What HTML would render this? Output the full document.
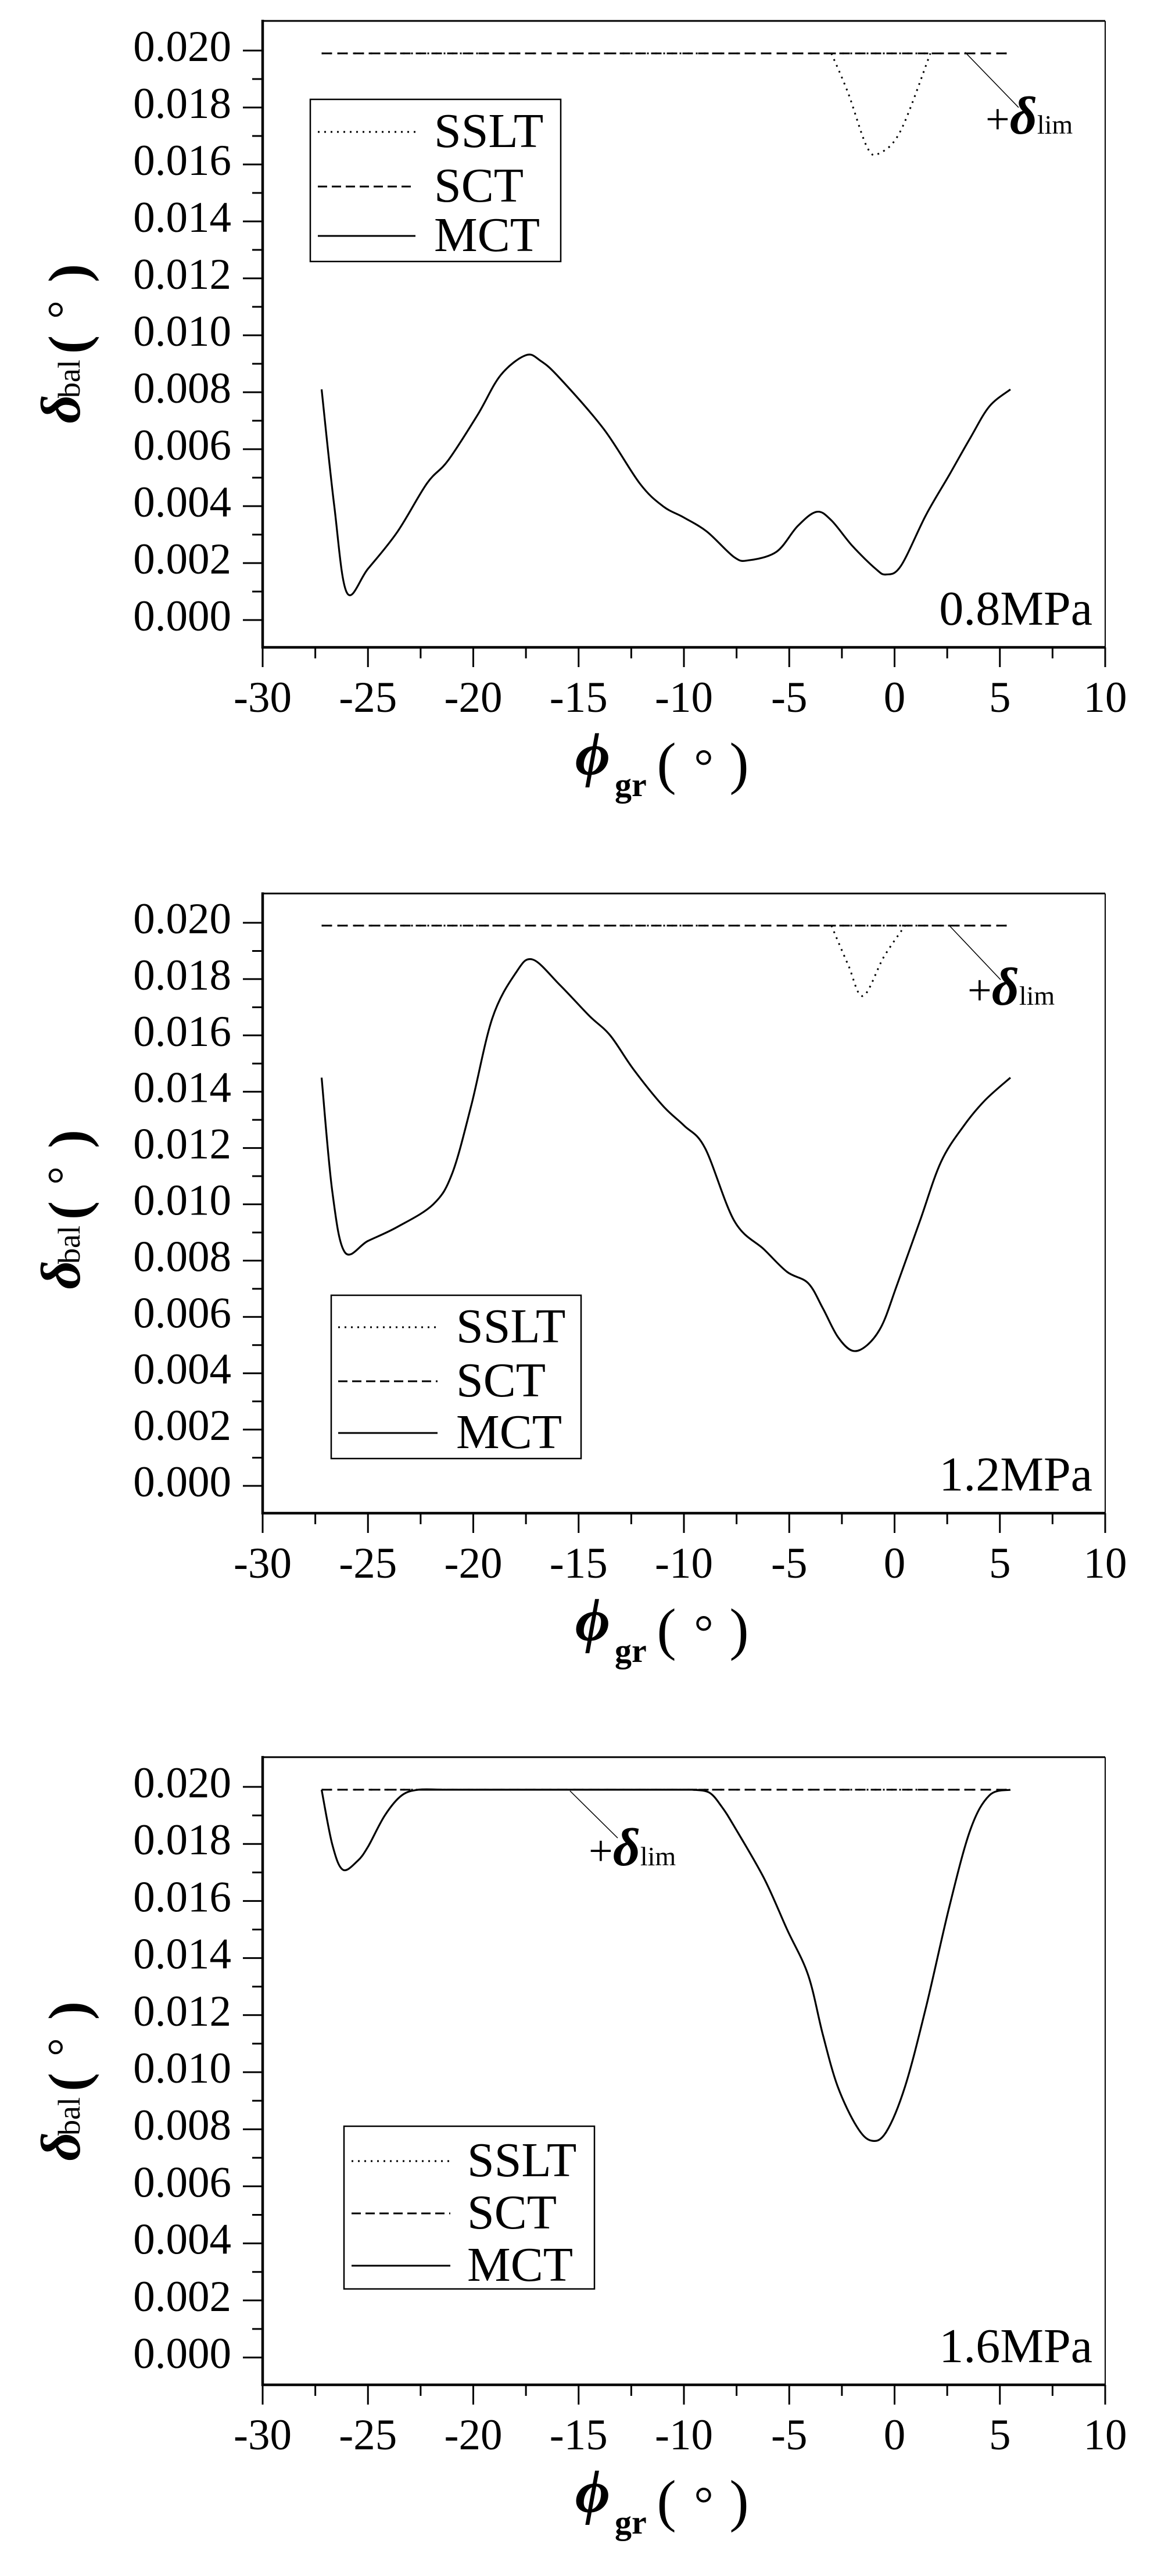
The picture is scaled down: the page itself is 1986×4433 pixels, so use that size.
<!DOCTYPE html>
<html><head><meta charset="utf-8">
<style>
html,body{margin:0;padding:0;background:#fff;}
svg{display:block;}
text{font-family:"Liberation Serif","Times New Roman",serif;fill:#000;}
</style></head>
<body>
<svg id="s" xmlns="http://www.w3.org/2000/svg" width="1986" height="4433" viewBox="0 0 1986 4433" font-family="Liberation Serif, serif"></svg>
<script>
var NS="http://www.w3.org/2000/svg",S=document.getElementById('s');
function el(t,a,txt){var e=document.createElementNS(NS,t);for(var k in a)e.setAttribute(k,a[k]);if(t==='text')e.setAttribute('font-family','Liberation Serif, serif');if(txt!==undefined)e.textContent=txt;S.appendChild(e);return e;}
function path(pts){
 var d="M"+pts[0][0].toFixed(1)+","+pts[0][1].toFixed(1);
 for(var i=0;i<pts.length-1;i++){var p0=pts[i-1]||pts[i],p1=pts[i],p2=pts[i+1],p3=pts[i+2]||p2;
  var c1x=p1[0]+(p2[0]-p0[0])/6,c1y=p1[1]+(p2[1]-p0[1])/6,c2x=p2[0]-(p3[0]-p1[0])/6,c2y=p2[1]-(p3[1]-p1[1])/6;
  d+=" C"+c1x.toFixed(1)+","+c1y.toFixed(1)+" "+c2x.toFixed(1)+","+c2y.toFixed(1)+" "+p2[0].toFixed(1)+","+p2[1].toFixed(1);}
 return d;}
var panels=[
 {y0:1067,k:49000,lab:"0.8MPa",
  mct:[[-27.2,.0081],[-26.6,.004],[-26,.00096],[-25,.0018],[-23.6,.0031],[-22.2,.0048],[-21.2,.0056],[-19.8,.0072],[-18.7,.0086],[-17.5,.0093],[-16.8,.0091],[-15.9,.0085],[-13.8,.0067],[-12.1,.0048],[-11,.004],[-10,.0036],[-8.9,.0031],[-7.6,.0022],[-6.9,.0021],[-5.6,.0024],[-4.6,.0033],[-3.7,.0038],[-3,.0035],[-2,.0026],[-0.9,.0018],[-0.4,.0016],[0.3,.0019],[1.5,.0037],[2.6,.0051],[3.6,.0064],[4.5,.0075],[5.5,.0081]],
  sslt:[[-3,.0199],[-2.2,.0185],[-1.3,.0166],[-0.7,.0164],[0.3,.0172],[1.7,.0199]],
  lim:{x:1696,y:-837,l:[1661,-977,1753,-882]},
  leg:{x:534,y:171-1067,w:431,h:279,rows:[223-1067,317-1067,402-1067],lx1:547,lx2:715,tx:747}},
 {y0:2557,k:48450,lab:"1.2MPa",
  mct:[[-27.2,.0145],[-26.7,.0105],[-26.1,.0083],[-25,.0087],[-23.6,.0092],[-21.9,.0100],[-21,.0111],[-20.1,.0135],[-19.1,.0166],[-18,.0182],[-17.2,.0187],[-15.9,.0178],[-14.5,.0167],[-13.5,.016],[-12.4,.0148],[-11,.0135],[-10,.0128],[-9,.012],[-7.6,.0094],[-6.2,.0084],[-5.1,.0076],[-4.1,.0072],[-3.4,.0063],[-2.7,.0053],[-2,.0048],[-1.3,.005],[-0.6,.0057],[0.1,.0071],[1.2,.0094],[2.2,.0115],[3.3,.0128],[4.3,.0137],[5.5,.0145]],
  sslt:[[-3,.0199],[-2.2,.0185],[-1.5,.0174],[-0.5,.0188],[0.5,.0199]],
  lim:{x:1665,y:-828,l:[1633,-965,1722,-871]},
  leg:{x:570,y:2229-2557,w:430,h:281,rows:[2280-2557,2373-2557,2462-2557],lx1:582,lx2:753,tx:785}},
 {y0:4057,k:49100,lab:"1.6MPa",
  mct:[[-27.2,.0199],[-26.7,.018],[-26.2,.0171],[-25.5,.0174],[-25,.0179],[-24.2,.019],[-23.4,.0197],[-22.6,.0199],[-21.5,.0199]],
  mct2:[[-9.6,.0199],[-8.8,.0198],[-8.2,.0193],[-7.6,.0186],[-6.2,.0168],[-5.1,.015],[-4.1,.0134],[-3.4,.0113],[-2.7,.0095],[-1.8,.0081],[-1.1,.0076],[-0.4,.0079],[0.5,.0095],[1.5,.0123],[2.6,.0158],[3.6,.0185],[4.5,.0197],[5.5,.0199]],
  flat:[-22.6,-9.4],
  sslt:null,
  lim:{x:1013,y:-847,l:[981,-975,1063,-894]},
  leg:{x:592,y:3659-4057,w:431,h:280,rows:[3715-4057,3805-4057,3895-4057],lx1:605,lx2:775,tx:804}}
];
var XL=452,XR=1902;
function px(x){return XL+(x+30)*36.25;}
panels.forEach(function(P){
 var y0=P.y0,k=P.k;function py(v){return y0-v*k;}
 var top=py(0.02104),bot=y0+47;
 el('line',{x1:XL,y1:top,x2:XR,y2:top,stroke:'#000','stroke-width':3});
 el('line',{x1:XR,y1:top,x2:XR,y2:bot,stroke:'#000','stroke-width':2});
 el('line',{x1:XL,y1:top-2,x2:XL,y2:bot+2,stroke:'#000','stroke-width':4.5});
 el('line',{x1:XL-2,y1:bot,x2:XR+1,y2:bot,stroke:'#000','stroke-width':4.5});
 for(var i=0;i<=20;i++){var v=i*0.001,y=py(v),maj=i%2==0;
  el('line',{x1:XL-(maj?34:18),y1:y,x2:XL,y2:y,stroke:'#000','stroke-width':3});
  if(maj)el('text',{x:398,y:y+18,'font-size':75,'text-anchor':'end'},(v).toFixed(3));}
 for(var j=0;j<=16;j++){var x=px(-30+j*2.5),maj=j%2==0;
  el('line',{x1:x,y1:bot,x2:x,y2:bot+(maj?34:19),stroke:'#000','stroke-width':3});
  if(maj)el('text',{x:x,y:y0+158,'font-size':75,'text-anchor':'middle'},String(-30+j*2.5));}
 el('line',{x1:px(-27.2),y1:py(0.0199),x2:px(5.5),y2:py(0.0199),stroke:'#000','stroke-width':3,'stroke-dasharray':'18,9'});
 el('line',{x1:px(-27.2),y1:py(0.0199),x2:px(5.5),y2:py(0.0199),stroke:'#000','stroke-width':3,'stroke-dasharray':'3,11'});
 if(P.sslt){el('path',{d:path(P.sslt.map(function(p){return[px(p[0]),py(p[1])]})),fill:'none',stroke:'#000','stroke-width':3,'stroke-dasharray':'3,8'});}
 el('path',{d:path(P.mct.map(function(p){return[px(p[0]),py(p[1])]})),fill:'none',stroke:'#000','stroke-width':3.2});
 if(P.mct2){el('path',{d:path(P.mct2.map(function(p){return[px(p[0]),py(p[1])]})),fill:'none',stroke:'#000','stroke-width':3.2});
  el('line',{x1:px(P.flat[0]),y1:py(0.0199),x2:px(P.flat[1]),y2:py(0.0199),stroke:'#000','stroke-width':3.2});}
 var L=P.lim;
 el('line',{x1:L.l[0],y1:y0+L.l[1],x2:L.l[2],y2:y0+L.l[3],stroke:'#000','stroke-width':1.5});
 var t=el('text',{x:L.x,y:y0+L.y,'font-size':74});
 var a=document.createElementNS(NS,'tspan');a.textContent='+';t.appendChild(a);
 a=document.createElementNS(NS,'tspan');a.setAttribute('font-style','italic');a.setAttribute('font-weight','bold');a.setAttribute('font-size','92');a.textContent='δ';t.appendChild(a);
 a=document.createElementNS(NS,'tspan');a.setAttribute('font-size','46');a.textContent='lim';t.appendChild(a);
 el('text',{x:1880,y:y0+8,'font-size':84,'text-anchor':'end'},P.lab);
 var G=P.leg;
 el('rect',{x:G.x,y:y0+G.y,width:G.w,height:G.h,fill:'none',stroke:'#000','stroke-width':2.5});
 var names=['SSLT','SCT','MCT'],dash=['3,8','16,8',''];
 for(var r=0;r<3;r++){var ry=y0+G.rows[r];
  var at={x1:G.lx1,y1:ry+4,x2:G.lx2,y2:ry+4,stroke:'#000','stroke-width':3};if(dash[r])at['stroke-dasharray']=dash[r];
  el('line',at);
  el('text',{x:G.tx,y:ry+30,'font-size':84},names[r]);}
 function rt(cx,by,sz,txt,extra){var a2={transform:'translate('+by+','+cx+') rotate(-90)','font-size':sz,'text-anchor':'middle'};for(var q in extra)a2[q]=extra[q];el('text',a2,txt);}
 var c=y0-1067;
 rt(704+c,137,96,'δ',{'font-style':'italic','font-weight':'bold'});
 rt(652+c,137,54,'bal',{});
 rt(593+c,150,96,'(',{'font-weight':'bold'});
 rt(533+c,137,80,'°',{});
 rt(470+c,150,96,')',{'font-weight':'bold'});
 el('text',{x:1020,y:y0+266,'font-size':104,'font-style':'italic','font-weight':'bold','text-anchor':'middle'},'ϕ');
 el('text',{x:1058,y:y0+303,'font-size':58,'font-weight':'bold'},'gr');
 el('text',{x:1147,y:y0+280,'font-size':100,'text-anchor':'middle'},'(');
 el('text',{x:1211,y:y0+280,'font-size':84,'text-anchor':'middle'},'°');
 el('text',{x:1272,y:y0+280,'font-size':100,'text-anchor':'middle'},')');
});
</script>
</body></html>
